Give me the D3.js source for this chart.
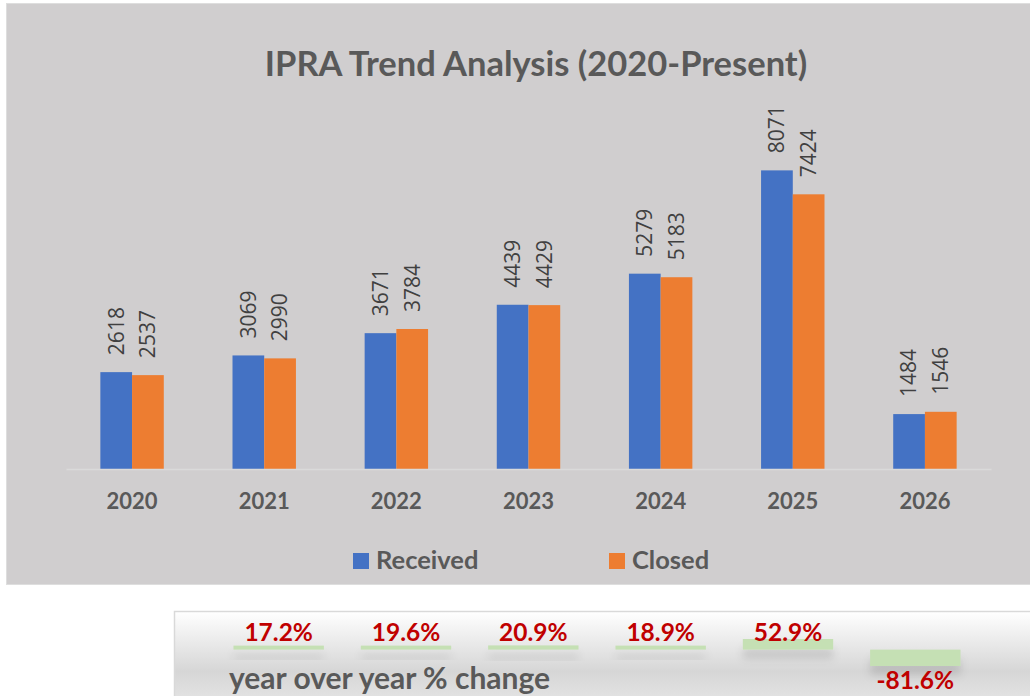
<!DOCTYPE html>
<html>
<head>
<meta charset="utf-8">
<script src="https://cdn.jsdelivr.net/npm/d3@7"></script>
<style>
  body { margin: 0; background: #fff; }
  svg { display: block; }
</style>
</head>
<body>
<svg width="1030" height="696"></svg>
<script>
// chart data
const years = ["2020", "2021", "2022", "2023", "2024", "2025", "2026"];
const received = [2618, 3069, 3671, 4439, 5279, 8071, 1484];
const closed = [2537, 2990, 3784, 4429, 5183, 7424, 1546];
const seriesNames = ["Received", "Closed"];
const seriesColors = ["#4472c4", "#ed7d31"];

// year over year table
const yoyYears = ["2021", "2022", "2023", "2024", "2025", "2026"];
const yoyValues = [17.2, 19.6, 20.9, 18.9, 52.9, -81.6];

const svg = d3.select("svg");
const greyText = "#595959";

const defs = svg.append("defs");
const grad = defs.append("linearGradient")
  .attr("id", "tblGrad").attr("x1", 0).attr("y1", 0).attr("x2", 0).attr("y2", 1);
grad.append("stop").attr("offset", "0%").attr("stop-color", "#ffffff");
grad.append("stop").attr("offset", "50%").attr("stop-color", "#d6d6d6");
grad.append("stop").attr("offset", "100%").attr("stop-color", "#f2f2f2");

const shadow = defs.append("filter").attr("id", "shadow")
  .attr("x", "-20%").attr("y", "-50%").attr("width", "140%").attr("height", "400%");
shadow.append("feDropShadow")
  .attr("dx", 0).attr("dy", 9).attr("stdDeviation", 4)
  .attr("flood-color", "#000").attr("flood-opacity", 0.12);

// grey chart area
svg.append("rect")
  .attr("x", 6.5).attr("y", 3.5).attr("width", 1030).attr("height", 581)
  .attr("fill", "#d0cecf").attr("stroke", "#dedede");

svg.append("text")
  .attr("x", 536).attr("y", 76)
  .attr("text-anchor", "middle")
  .style("font-family", "Lato").style("font-weight", "bold").style("font-size", "34.5px")
  .attr("fill", greyText)
  .text("IPRA Trend Analysis (2020-Present)");

// scales
const x = d3.scaleBand().domain(years).range([66, 991]).paddingInner(0.52).paddingOuter(0.26);
const xs = d3.scaleBand().domain(seriesNames).range([0, x.bandwidth()]);
const y = d3.scaleLinear().domain([0, 9000]).range([469, 136]);

const rows = years.map((yr, i) => ({ year: yr, values: [received[i], closed[i]] }));

const group = svg.selectAll(".grp")
  .data(rows)
  .enter().append("g")
    .attr("class", "grp")
    .attr("transform", d => "translate(" + x(d.year) + ",0)");

const bar = group.selectAll(".bar")
  .data(d => d.values.map((v, j) => ({ name: seriesNames[j], value: v, color: seriesColors[j] })))
  .enter().append("g").attr("class", "bar");

bar.append("rect")
  .attr("x", d => xs(d.name))
  .attr("y", d => y(d.value))
  .attr("width", xs.bandwidth())
  .attr("height", d => y(0) - y(d.value))
  .attr("fill", d => d.color);

// rotated value labels
bar.append("text")
  .attr("transform", d => "translate(" + (xs(d.name) + xs.bandwidth() / 2) + "," + (y(d.value) - 17) + ") rotate(-90)")
  .attr("dy", "0.35em")
  .style("font-family", "Open Sans").style("font-size", "21px")
  .attr("fill", "#404040")
  .text(d => d.value);

// x axis
const xAxis = svg.append("g")
  .attr("transform", "translate(0," + y(0) + ")")
  .call(d3.axisBottom(x).tickSize(0).tickPadding(24));
xAxis.select(".domain").attr("stroke", "#dadada").attr("stroke-width", 1.5);
xAxis.selectAll("text")
  .style("font-family", "Lato").style("font-weight", "bold").style("font-size", "22px")
  .attr("fill", greyText);

// legend
const legendX = [353, 609];
const legend = svg.selectAll(".leg")
  .data(seriesNames)
  .enter().append("g")
    .attr("class", "leg")
    .attr("transform", (d, i) => "translate(" + legendX[i] + ",553)");
legend.append("rect").attr("width", 16).attr("height", 16).attr("fill", (d, i) => seriesColors[i]);
legend.append("text")
  .attr("x", 23).attr("y", 16)
  .style("font-family", "Lato").style("font-weight", "bold").style("font-size", "25.5px")
  .attr("fill", greyText)
  .text(d => d);

// year over year table
svg.append("rect")
  .attr("x", 174.5).attr("y", 611.5).attr("width", 900).attr("height", 120)
  .attr("fill", "url(#tblGrad)").attr("stroke", "#d9d9d9").attr("stroke-width", 1.5);

const tx = d3.scaleBand().domain(yoyYears).range([215, 979]).paddingInner(0.29).paddingOuter(0.145);
const ty = d3.scaleLinear().domain([-81.6, 52.9]).range([666, 639]);

svg.selectAll(".yoybar")
  .data(yoyValues)
  .enter().append("rect")
    .attr("class", "yoybar")
    .attr("x", (d, i) => tx(yoyYears[i]))
    .attr("y", d => Math.min(ty(d), ty(0)) - (d > 0 && ty(0) - ty(d) < 4 ? 4 - (ty(0) - ty(d)) : 0))
    .attr("width", tx.bandwidth())
    .attr("height", d => Math.max(4, Math.abs(ty(d) - ty(0))))
    .attr("fill", "#c5e0b4")
    .attr("filter", "url(#shadow)");

svg.selectAll(".yoylabel")
  .data(yoyValues)
  .enter().append("text")
    .attr("class", "yoylabel")
    .attr("x", (d, i) => tx(yoyYears[i]) + tx.bandwidth() / 2)
    .attr("y", d => d >= 0 ? 641 : 689)
    .attr("text-anchor", "middle")
    .style("font-family", "Lato").style("font-weight", "bold").style("font-size", "24.5px")
    .attr("fill", "#c00000")
    .text(d => d.toFixed(1) + "%");

svg.append("text")
  .attr("x", 229).attr("y", 689)
  .style("font-family", "Lato").style("font-weight", "bold").style("font-size", "30px")
  .attr("fill", greyText)
  .text("year over year % change");
</script>
</body>
</html>
